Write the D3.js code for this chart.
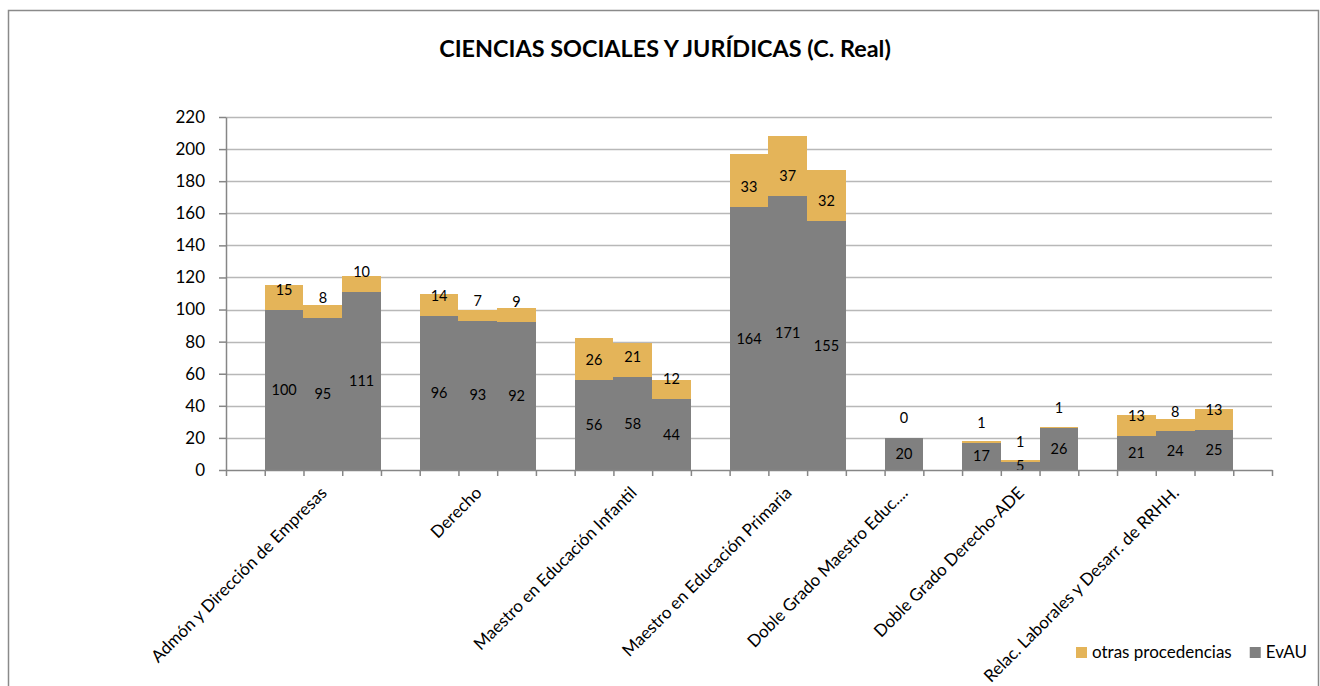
<!DOCTYPE html>
<html>
<head>
<meta charset="utf-8">
<script src="https://cdn.jsdelivr.net/npm/d3@7"></script>
<style>
body { margin: 0; background: #fff; }
text { font-family: Lato, "Open Sans", sans-serif; fill: #000; }
</style>
</head>
<body>
<div id="chart"></div>
<script>
var categories = ["Admón y Dirección de Empresas", "Derecho", "Maestro en Educación Infantil",
  "Maestro en Educación Primaria", "Doble Grado Maestro Educ....", "Doble Grado Derecho-ADE",
  "Relac. Laborales y Desarr. de RRHH."];
// EvAU per year, per degree
var evau = [[100, 95, 111], [96, 93, 92], [56, 58, 44], [164, 171, 155], [20], [17, 5, 26], [21, 24, 25]];
// otras procedencias per year, per degree
var otras = [[15, 8, 10], [14, 7, 9], [26, 21, 12], [33, 37, 32], [0], [1, 1, 1], [13, 8, 13]];
var yTicks = [0, 20, 40, 60, 80, 100, 120, 140, 160, 180, 200, 220];
var seriesNames = ["otras procedencias", "EvAU"];
var seriesColors = ["#e4b459", "#808080"];

var width = 1320;
var height = 686;
var plotLeft = 226, plotRight = 1272, plotTop = 117, plotBottom = 470;

// one slot per bar, with an empty slot before each degree and one at the end
var slots = [];
var bars = [];
categories.forEach(function(c, i) {
  slots.push("gap" + i);
  evau[i].forEach(function(v, j) {
    var key = i + "-" + j;
    slots.push(key);
    bars.push({key: key, cat: i, evau: v, otras: otras[i][j]});
  });
});
slots.push("gapEnd");

var x = d3.scaleBand().domain(slots).range([plotLeft, plotRight]).padding(0);
var xs = d3.scaleLinear().domain([0, slots.length]).range([plotLeft, plotRight]);
var y = d3.scaleLinear().domain([0, 220]).range([plotBottom, plotTop]);

var svg = d3.select("#chart").append("svg")
  .attr("width", width)
  .attr("height", height);

// chart frame
svg.append("rect")
  .attr("x", 8.5).attr("y", 10.5)
  .attr("width", 1310).attr("height", 700)
  .attr("fill", "#fff")
  .attr("stroke", "#8a8a8a")
  .attr("stroke-width", 1.5);

svg.append("text")
  .attr("x", 665)
  .attr("y", 57)
  .attr("text-anchor", "middle")
  .style("font-size", "23.4px")
  .style("font-weight", "bold")
  .text("CIENCIAS SOCIALES Y JURÍDICAS (C. Real)");

// gridlines
svg.append("g").selectAll("line")
  .data(yTicks.slice(1))
  .enter().append("line")
  .attr("x1", plotLeft).attr("x2", plotRight)
  .attr("y1", function(d) { return Math.round(y(d)) + 0.5; })
  .attr("y2", function(d) { return Math.round(y(d)) + 0.5; })
  .attr("stroke", "#b8b8b8")
  .attr("stroke-width", 1.5);

// stacked bars
var g = svg.append("g").selectAll("g")
  .data(bars)
  .enter().append("g");

g.append("rect")
  .attr("x", function(d) { return Math.round(x(d.key)); })
  .attr("width", function(d) { return Math.round(x(d.key) + x.bandwidth()) - Math.round(x(d.key)); })
  .attr("y", function(d) { return Math.round(y(d.evau)); })
  .attr("height", function(d) { return Math.round(y(0)) - Math.round(y(d.evau)); })
  .attr("shape-rendering", "crispEdges")
  .attr("fill", seriesColors[1]);

g.append("rect")
  .attr("x", function(d) { return Math.round(x(d.key)); })
  .attr("width", function(d) { return Math.round(x(d.key) + x.bandwidth()) - Math.round(x(d.key)); })
  .attr("y", function(d) { return Math.round(y(d.evau + d.otras)); })
  .attr("height", function(d) { return Math.round(y(d.evau)) - Math.round(y(d.evau + d.otras)); })
  .attr("shape-rendering", "crispEdges")
  .attr("fill", seriesColors[0]);

// labels: EvAU centred, otras at inside base
g.append("text")
  .attr("x", function(d) { return x(d.key) + x.bandwidth() / 2; })
  .attr("y", function(d) { return (y(0) + y(d.evau)) / 2; })
  .attr("dy", "0.35em")
  .attr("text-anchor", "middle")
  .style("font-size", "14.5px")
  .text(function(d) { return d.evau; });

g.append("text")
  .attr("x", function(d) { return x(d.key) + x.bandwidth() / 2; })
  .attr("y", function(d) { return y(d.evau) - 20; })
  .attr("dy", "0.35em")
  .attr("text-anchor", "middle")
  .style("font-size", "14.5px")
  .text(function(d) { return d.otras; });

// y axis
var yAxis = svg.append("g")
  .attr("transform", "translate(" + plotLeft + ",0)")
  .call(d3.axisLeft(y).tickValues(yTicks).tickSize(7).tickSizeOuter(0).tickPadding(14));
yAxis.selectAll("text").style("font-size", "17px").style("font-family", "Lato, sans-serif").attr("fill", "#000");

// x axis, ticks between every bar slot
var xAxis = svg.append("g")
  .attr("transform", "translate(0," + plotBottom + ")")
  .call(d3.axisBottom(xs).tickValues(d3.range(slots.length + 1)).tickFormat("").tickSize(6).tickSizeOuter(0));

svg.selectAll(".domain, .tick line")
  .attr("stroke", "#868686")
  .attr("stroke-width", 1.5);

// category labels
svg.append("g").selectAll("text")
  .data(categories)
  .enter().append("text")
  .attr("text-anchor", "end")
  .attr("transform", function(d, i) {
    var mine = bars.filter(function(b) { return b.cat == i; });
    var cx = d3.mean(mine, function(b) { return x(b.key) + x.bandwidth() / 2; });
    return "translate(" + (cx + 5) + "," + (plotBottom + 24) + ") rotate(-45)";
  })
  .style("font-size", "17px")
  .text(function(d) { return d; });

// legend
var legend = svg.append("g").attr("transform", "translate(1076,647)");
var lx = 0;
seriesNames.forEach(function(name, i) {
  legend.append("rect")
    .attr("x", lx).attr("y", 0)
    .attr("width", 11).attr("height", 11)
    .attr("fill", seriesColors[i]);
  var t = legend.append("text")
    .attr("x", lx + 16).attr("y", 5.5)
    .attr("dy", "0.35em")
    .style("font-size", "17px")
    .text(name);
  lx += 16 + t.node().getComputedTextLength() + 18;
});
</script>
</body>
</html>
